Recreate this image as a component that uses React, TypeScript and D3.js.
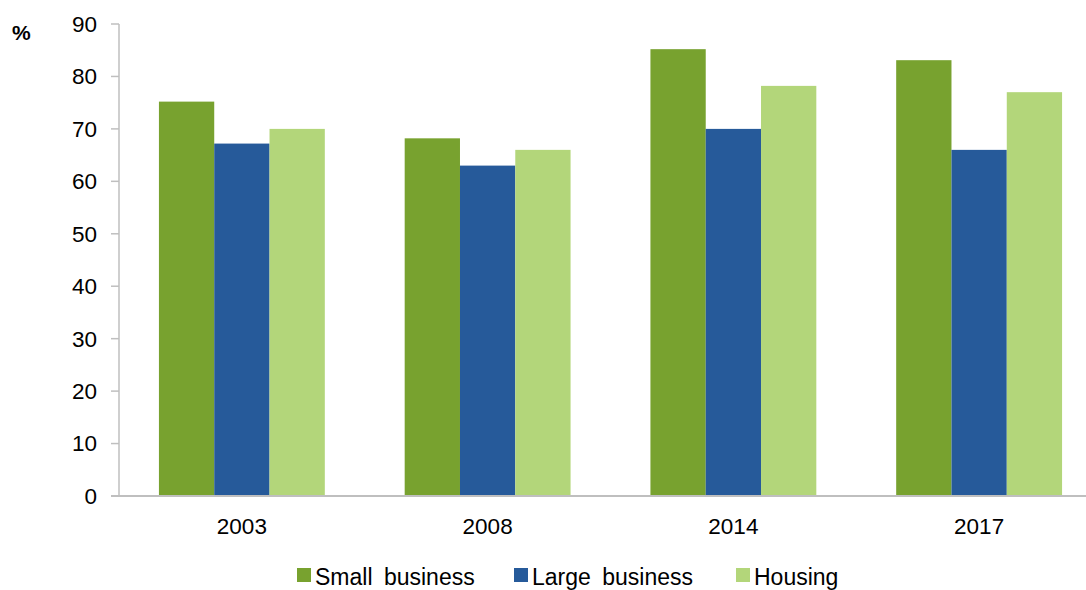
import React, { useRef, useEffect } from 'react';
import * as d3 from 'd3';

const years = ['2003', '2008', '2014', '2017'];
const seriesNames = ['Small business', 'Large business', 'Housing'];
const smallBusiness = [75.2, 68.2, 85.2, 83.1];
const largeBusiness = [67.2, 63, 70, 66];
const housing = [70, 66, 78.2, 77];
const yTicks = [0, 10, 20, 30, 40, 50, 60, 70, 80, 90];
const colors = ['#78a22f', '#265a9a', '#b3d67a'];

const App: React.FC = () => {
    const svgRef = useRef<SVGSVGElement | null>(null);

    useEffect(() => {
        if (!svgRef.current) return;
        const width = 1086;
        const height = 590;
        const left = 119, right = 1102, top = 24, bottom = 496;

        const svg = d3.select(svgRef.current);
        svg.selectAll('*').remove();
        svg.attr('width', width).attr('height', height)
            .style('font-family', '"Liberation Sans", Arial, sans-serif');

        const rows = years.map((y, i) => ({ year: y, values: [smallBusiness[i], largeBusiness[i], housing[i]] }));

        const x = d3.scaleBand<string>().domain(years).range([left, right]).paddingInner(0.325).paddingOuter(0.1625);
        const xs = d3.scaleBand<number>().domain([0, 1, 2]).range([0, x.bandwidth()]);
        const y = d3.scaleLinear().domain([0, 90]).range([bottom, top]);

        const g = svg.append('g')
            .selectAll('g')
            .data(rows)
            .join('g')
            .attr('transform', d => `translate(${x(d.year)},0)`);

        g.selectAll('rect')
            .data(d => d.values)
            .join('rect')
            .attr('x', (_d, i) => xs(i)!)
            .attr('width', xs.bandwidth())
            .attr('y', d => y(d))
            .attr('height', d => y(0) - y(d))
            .attr('fill', (_d, i) => colors[i]);

        // y axis
        const ya = svg.append('g');
        ya.append('line').attr('x1', left).attr('x2', left).attr('y1', top).attr('y2', bottom)
            .attr('stroke', '#bfbfbf').attr('stroke-width', 1.5);
        ya.selectAll('line.tick').data(yTicks).join('line').attr('class', 'tick')
            .attr('x1', left - 8).attr('x2', left).attr('y1', d => y(d)).attr('y2', d => y(d))
            .attr('stroke', '#bfbfbf').attr('stroke-width', 1.5);
        ya.selectAll('text').data(yTicks).join('text')
            .attr('x', 97).attr('y', d => y(d)).attr('dy', '0.35em')
            .attr('text-anchor', 'end').attr('font-size', 22.5).attr('fill', '#000')
            .text(d => d);

        // x axis
        svg.append('line').attr('x1', left - 8).attr('x2', width).attr('y1', bottom).attr('y2', bottom)
            .attr('stroke', '#bfbfbf').attr('stroke-width', 2);
        svg.append('g').selectAll('text').data(years).join('text')
            .attr('x', d => x(d)! + x.bandwidth() / 2).attr('y', 534)
            .attr('text-anchor', 'middle').attr('font-size', 22.5).text(d => d);

        svg.append('text').attr('x', 12).attr('y', 40).attr('font-size', 21).attr('font-weight', 'bold').text('%');

        // legend
        const legendX = [297, 514, 736];
        const lg = svg.append('g').selectAll('g').data(seriesNames).join('g')
            .attr('transform', (_d, i) => `translate(${legendX[i]},568)`);
        lg.append('rect').attr('width', 14).attr('height', 14).attr('fill', (_d, i) => colors[i]);
        lg.append('text').attr('x', 18).attr('y', 17).attr('font-size', 23)
            .style('word-spacing', '5px').text(d => d);
    }, []);

    return <svg ref={svgRef} style={{ position: 'absolute', left: 0, top: 0, display: 'block' }} />;
};

export default App;
